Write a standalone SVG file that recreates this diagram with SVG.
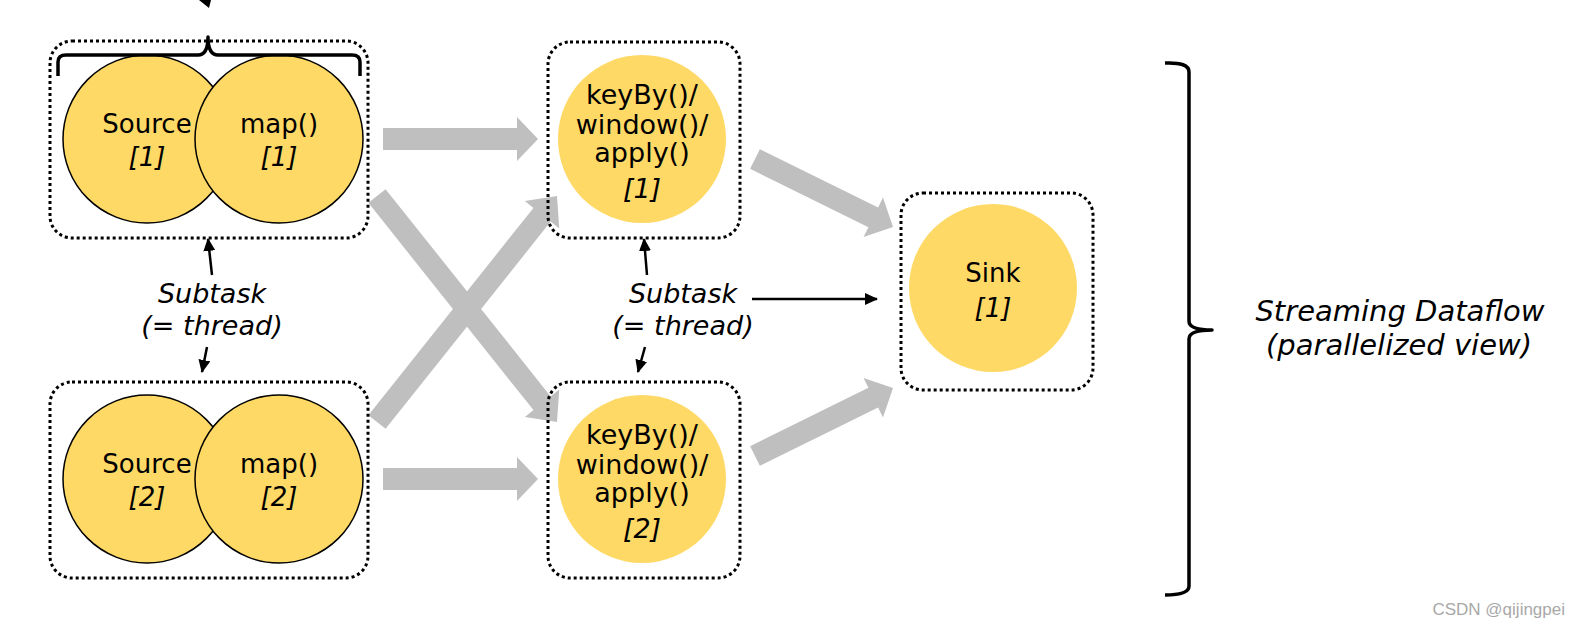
<svg xmlns="http://www.w3.org/2000/svg" width="1580" height="628" viewBox="0 0 1580 628">
<defs>
<style>
.box{fill:none;stroke:#000;stroke-width:3;stroke-dasharray:3 3}
.op{fill:#FFD966;stroke:#000;stroke-width:1.5}
.opn{fill:#FFD966;stroke:none}
.t{font-family:"DejaVu Sans",Verdana,sans-serif;font-size:26px;fill:#000;text-anchor:middle}
.k{font-size:27px}
.i{font-style:italic}
.s{font-size:27px}
.flow{fill:#BFBFBF;stroke:none}
.ptr{stroke:#000;stroke-width:2.5;fill:none;marker-end:url(#ah)}
.brace{stroke:#000;stroke-width:3.5;fill:none;stroke-linejoin:round}
</style>
<marker id="ah" markerUnits="userSpaceOnUse" markerWidth="14" markerHeight="12" refX="12" refY="6" orient="auto">
<path d="M0,0 L13,6 L0,12 z" fill="#000"/>
</marker>
</defs>
<rect width="1580" height="628" fill="#fff"/>

<g id="connectors">
<polygon class="flow" points="383,128 517,128 517,117 538,139 517,161 517,150 383,150"/>
<polygon class="flow" points="383,468 517,468 517,457 538,479 517,501 517,490 383,490"/>
<polygon class="flow" points="368.4,202.85 533.45,410.08 524.85,416.94 557,422 559.25,389.52 550.65,396.38 385.6,189.15"/>
<polygon class="flow" points="368.4,415.15 533.45,207.92 524.85,201.06 557,196 559.25,228.48 550.65,221.62 385.6,428.85"/>
<polygon class="flow" points="750.14,168.87 868.4,227.15 863.54,237.01 893,227 882.98,197.55 878.12,207.41 759.86,149.13"/>
<polygon class="flow" points="750.14,446.13 868.4,387.85 863.54,377.99 893,388 882.98,417.45 878.12,407.59 759.86,465.87"/>
<line class="ptr" x1="212" y1="275" x2="208" y2="239"/>
<line class="ptr" x1="207" y1="347" x2="202" y2="372"/>
<line class="ptr" x1="647" y1="275" x2="644" y2="239"/>
<line class="ptr" x1="645" y1="347" x2="638" y2="372"/>
<line class="ptr" x1="752" y1="299" x2="877" y2="299"/>
<polygon points="199,0 211,0 209,8" fill="#000"/>
</g>

<g id="chain1">
<rect class="box" x="50" y="41" width="318" height="197" rx="22"/>
<circle class="op" cx="147" cy="139" r="84"/>
<circle class="op" cx="279" cy="139" r="84"/>
<path class="brace" d="M58,76 V62 Q58,55 66,55 H198 Q208,55 208,37 Q208,55 218,55 H352 Q360,55 360,62 V76"/>
<text class="t" x="147" y="133">Source</text>
<text class="t i" x="147" y="166">[1]</text>
<text class="t" x="279" y="133">map()</text>
<text class="t i" x="279" y="166">[1]</text>
</g>

<g id="chain2">
<rect class="box" x="50" y="382" width="318" height="196" rx="22"/>
<circle class="op" cx="147" cy="479" r="84"/>
<circle class="op" cx="279" cy="479" r="84"/>
<text class="t" x="147" y="473">Source</text>
<text class="t i" x="147" y="506">[2]</text>
<text class="t" x="279" y="473">map()</text>
<text class="t i" x="279" y="506">[2]</text>
</g>

<g id="window1">
<rect class="box" x="548" y="42" width="192" height="196" rx="22"/>
<circle class="opn" cx="642" cy="139" r="84"/>
<text class="t k" x="642" y="104">keyBy()/</text>
<text class="t k" x="642" y="134">window()/</text>
<text class="t k" x="642" y="162">apply()</text>
<text class="t k i" x="642" y="198">[1]</text>
</g>

<g id="window2">
<rect class="box" x="548" y="382" width="192" height="196" rx="22"/>
<circle class="opn" cx="642" cy="479" r="84"/>
<text class="t k" x="642" y="444">keyBy()/</text>
<text class="t k" x="642" y="474">window()/</text>
<text class="t k" x="642" y="502">apply()</text>
<text class="t k i" x="642" y="538">[2]</text>
</g>

<g id="sink">
<rect class="box" x="901" y="193" width="192" height="197" rx="22"/>
<circle class="opn" cx="993" cy="288" r="84"/>
<text class="t" x="993" y="282">Sink</text>
<text class="t i" x="993" y="317">[1]</text>
</g>

<g id="subtask-left">
<text class="t i s" x="212" y="303">Subtask</text>
<text class="t i s" x="212" y="335">(= thread)</text>
</g>

<g id="subtask-right">
<text class="t i s" x="683" y="303">Subtask</text>
<text class="t i s" x="683" y="335">(= thread)</text>
</g>

<g id="dataflow-label">
<path class="brace" d="M1165,63 Q1189,62 1189,72 V321 Q1189,330 1212,330 Q1189,330 1189,339 V586 Q1189,595 1165,595"/>
<text class="t i" x="1400" y="321" style="font-size:29px">Streaming Dataflow</text>
<text class="t i" x="1399" y="355" style="font-size:29px">(parallelized view)</text>
</g>

<text x="1565" y="615" style="font-family:'Liberation Sans',Arial,sans-serif;font-size:17px;fill:#A8A8A8;text-anchor:end">CSDN @qijingpei</text>
</svg>
